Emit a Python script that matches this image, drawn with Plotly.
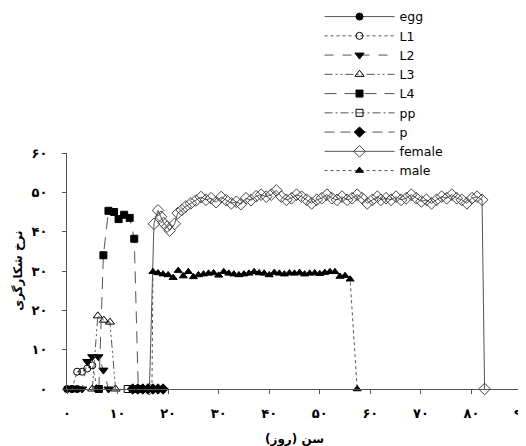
import plotly.graph_objects as go

# days and predation rate for each stage
egg_x = [0, 1, 2]
egg_y = [0, 0, 0]

l1_x = [1, 2, 3, 4, 5, 6]
l1_y = [0, 4.4, 4.4, 5.2, 6.0, 0]

l2_x = [2, 3, 4, 5, 6.2, 7.2, 8.2]
l2_y = [0, 0, 7.0, 8.2, 8.2, 4.8, 0]

l3_x = [5, 6.1, 7.3, 8.5, 9.6]
l3_y = [0, 18.6, 17.5, 17.0, 0]

l4_x = [6.3, 7.2, 8.2, 9.3, 10.2, 11.3, 12.4, 13.3, 14.1]
l4_y = [0, 34, 45.3, 45, 43.2, 44.3, 43.5, 38.2, 0]

pp_x = [12, 13]
pp_y = [0, 0]

p_x = [13, 14, 15, 16, 17, 18, 19]
p_y = [0, 0, 0, 0, 0, 0, 0]

female_x = [16.3, 17.2, 18.0, 18.6, 19.1, 19.8, 20.3, 21.3, 21.9, 22.7, 23.5, 24.5,
            25.5, 26.5, 27.5, 28.5, 29.5, 30.5, 31.5, 32.5, 33.5, 34.4, 35.4, 36.4,
            37.4, 38.4, 39.4, 40.4, 41.4, 42.4, 43.4, 44.4, 45.4, 46.4, 47.4, 48.4,
            49.4, 50.4, 51.4, 52.4, 53.4, 54.4, 55.4, 56.4, 57.4, 58.4, 59.4, 60.4,
            61.4, 62.1, 63.1, 64.1, 65.1, 66.1, 67.1, 68.1, 69.1, 70.1, 71.1, 72.1,
            73.1, 74.1, 75.1, 76.1, 77.1, 78.1, 79.1, 80.1, 81.1, 82.1, 82.6]
female_y = [0, 42, 45.4, 43.8, 42.2, 41.3, 40.3, 42, 44.7, 45.5, 46.4, 47.2,
            47.9, 48.8, 48.1, 48.5, 47.5, 48.8, 48, 47.2, 47.6, 47, 48.5, 48,
            49, 49.4, 48.9, 49.4, 50.5, 48.9, 48.1, 48.5, 49.4, 48.9, 48.1, 47.2,
            48.1, 48.5, 49.4, 48.5, 48.1, 48.9, 48.1, 48.5, 49.4, 48.5, 47.2, 48.1,
            48.9, 48.1, 48.5, 48.1, 48.9, 48.1, 48.5, 49.4, 48.5, 47.7, 48.1, 47.2,
            48.1, 48.9, 48.5, 49.4, 48.5, 48.1, 47.2, 48.5, 48.9, 48.1, 0]

male_x = [16.8, 17, 18, 19, 20, 21, 22, 23, 24, 25, 26, 27, 28, 29, 30, 31, 32, 33,
          34, 35, 36, 37, 38, 39, 40, 41, 42, 43, 44, 45, 46, 47, 48, 49, 50, 51,
          52, 53, 54, 55, 56, 57.4]
male_y = [0, 29.8, 29.5, 29.2, 29.0, 28.3, 30.1, 28.7, 29.8, 28.5, 29.0, 29.2, 29.4,
          29.5, 28.9, 29.8, 29.4, 29.2, 29.0, 29.2, 29.4, 29.8, 29.5, 29.4, 29.0,
          29.6, 29.4, 29.2, 29.5, 29.4, 29.6, 29.2, 29.4, 29.5, 29.3, 29.6, 29.8,
          29.8, 28.6, 28.8, 27.9, 0]

fa_digits = ['۰', '۱۰', '۲۰', '۳۰', '۴۰', '۵۰', '۶۰', '۷۰', '۸۰', '۹۰']
x_ticks = [0, 10, 20, 30, 40, 50, 60, 70, 80, 90]
y_ticks = [0, 10, 20, 30, 40, 50, 60]

line_col = '#555555'

series = [
    ('egg', egg_x, egg_y, 'solid', 'circle', 7, 'black'),
    ('L1', l1_x, l1_y, 'dot', 'circle-open', 7, 'black'),
    ('L2', l2_x, l2_y, 'dash', 'triangle-down', 8, 'black'),
    ('L3', l3_x, l3_y, '8px,3px,2px,3px,2px,3px', 'triangle-up-open', 8, 'black'),
    ('L4', l4_x, l4_y, '12px,8px', 'square', 7, 'black'),
    ('pp', pp_x, pp_y, '8px,3px,2px,3px', 'square-open', 7, 'black'),
    ('p', p_x, p_y, '10px,6px', 'diamond', 8, 'black'),
    ('female', female_x, female_y, 'solid', 'diamond-open', 9, '#444444'),
    ('male', male_x, male_y, 'dot', 'triangle-up', 7, 'black'),
]

fig = go.Figure()
# draw female/male first so the black p diamonds sit on top of their start
draw_order = [0, 1, 2, 3, 4, 5, 7, 8, 6]
for i in draw_order:
    name, xs, ys, dash, sym, size, mcol = series[i]
    fig.add_trace(go.Scatter(
        x=xs, y=ys, name=name, mode='lines+markers', legendrank=i + 1,
        line=dict(color=line_col, width=1, dash=dash),
        marker=dict(symbol=sym, size=size, color=mcol,
                    line=dict(color=mcol, width=1)),
        cliponaxis=False))

# page body has an 8px margin, so the figure is 8px smaller and shifted
fig.update_layout(
    width=518, height=438,
    margin=dict(l=59, r=4, t=145, b=57, autoexpand=False),
    paper_bgcolor='white', plot_bgcolor='white',
    showlegend=True,
    legend=dict(x=0.555, y=1.64, xanchor='left', yanchor='top',
                font=dict(family='DejaVu Sans', size=12.5, color='black'),
                itemwidth=70, bgcolor='rgba(0,0,0,0)'),
    font=dict(family='DejaVu Sans', color='black'),
)
fig.update_xaxes(range=[0, 90], showline=True, linecolor='#555', linewidth=1,
                 ticks='outside', ticklen=4, tickcolor='#555',
                 tickvals=x_ticks, ticktext=fa_digits,
                 tickfont=dict(family='DejaVu Sans', size=13, weight='bold'),
                 ticklabelstandoff=8, ticklabeloverflow='allow',
                 showgrid=False, zeroline=False)
fig.update_yaxes(range=[0, 60], showline=True, linecolor='#555', linewidth=1,
                 ticks='outside', ticklen=4, tickcolor='#555',
                 tickvals=y_ticks, ticktext=fa_digits[:7],
                 tickfont=dict(family='DejaVu Sans', size=13, weight='bold'),
                 ticklabelstandoff=12,
                 showgrid=False, zeroline=False)

fig.add_annotation(text='سن (روز)', xref='paper', yref='paper', x=0.5, y=-0.216,
                   showarrow=False, yanchor='middle',
                   font=dict(family='DejaVu Sans', size=12, weight='bold'))
fig.add_annotation(text='نرخ شکارگری', xref='paper', yref='paper', x=-0.108, y=0.5,
                   showarrow=False, textangle=-90, xanchor='center',
                   font=dict(family='DejaVu Sans', size=12, weight='bold'))

fig.write_html("out.html")
